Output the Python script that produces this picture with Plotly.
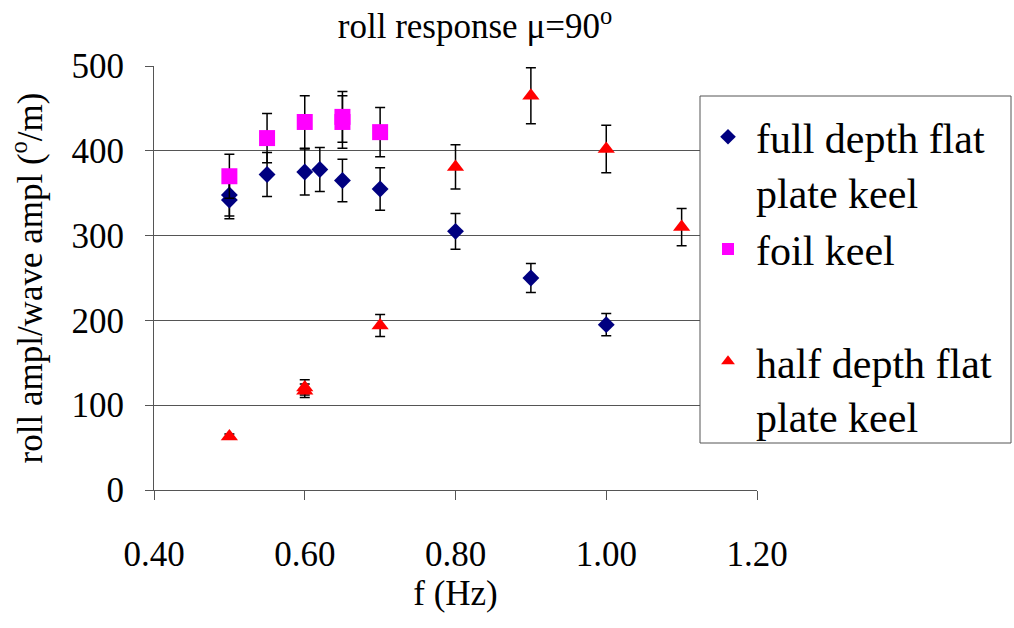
import plotly.graph_objects as go

# ---- data ----
full_f = [0.50, 0.50, 0.55, 0.60, 0.62, 0.65, 0.70, 0.80, 0.90, 1.00]
full_y = [348, 342, 372, 375, 378, 365, 355, 305, 250, 195]
full_err = [25, 22, 26, 27, 26, 25, 25, 21, 17, 13]

foil_f = [0.50, 0.55, 0.60, 0.65, 0.65, 0.70]
foil_y = [370, 415, 434, 440, 434, 422]
foil_err = [26, 29, 31, 30, 31, 29]

half_f = [0.50, 0.60, 0.60, 0.70, 0.80, 0.90, 1.00, 1.10]
half_y = [63, 117, 121, 194, 381, 465, 402, 310]
half_err = [3, 8, 9, 13, 26, 33, 28, 22]

x_ticks = [0.40, 0.60, 0.80, 1.00, 1.20]
y_ticks = [0, 100, 200, 300, 400, 500]

FONT = "Times New Roman, Liberation Serif, DejaVu Serif, serif"

fig = go.Figure()

def err(vals):
    return dict(type="data", array=vals, visible=True, color="black",
                thickness=1.5, width=5)

fig.add_trace(go.Scatter(
    x=full_f, y=full_y, mode="markers", name="full depth flat<br>plate keel",
    marker=dict(symbol="diamond", size=13, color="#000080",
                line=dict(width=0)),
    error_y=err(full_err), legendgroup="a"))
fig.add_trace(go.Scatter(
    x=foil_f, y=foil_y, mode="markers", name="foil keel<br> ",
    marker=dict(symbol="square", size=16, color="#FF00FF",
                line=dict(width=0)),
    error_y=err(foil_err), legendgroup="b"))
fig.add_trace(go.Scatter(
    x=half_f, y=half_y, mode="markers", name="half depth flat<br>plate keel",
    marker=dict(symbol="triangle-up", size=15, color="#FF0000",
                line=dict(width=0)),
    error_y=err(half_err), legendgroup="c"))

W, H = 1014, 628
L, R, T, B = 154, 757, 66, 490

def px_x(p):
    return (p - L) / (R - L)

def px_y(p):
    return (B - p) / (B - T)

# legend frame
fig.add_shape(type="rect", xref="paper", yref="paper",
              x0=px_x(700), x1=px_x(1011), y0=px_y(443), y1=px_y(96),
              line=dict(color="#555555", width=1), fillcolor="white",
              layer="above")

fig.update_layout(
    width=W, height=H,
    margin=dict(l=L, r=W - R, t=T, b=H - B, autoexpand=False),
    paper_bgcolor="white", plot_bgcolor="white",
    font=dict(family=FONT, size=35, color="black"),
    title=dict(text="roll response \u03bc=90<sup>o</sup>",
               x=475 / W, xref="container", xanchor="center",
               y=1 - 26 / H, yref="container", yanchor="middle",
               font=dict(family=FONT, size=35, color="black")),
    showlegend=True,
    legend=dict(x=px_x(700), y=px_y(103),
                xanchor="left", yanchor="top",
                bgcolor="rgba(0,0,0,0)", borderwidth=0,
                font=dict(family=FONT, size=42, color="black"),
                valign="top", tracegroupgap=5, itemsizing="constant",
                itemwidth=46, traceorder="normal"),
    xaxis=dict(range=[0.40, 1.20], tickvals=x_ticks,
               ticktext=[f"{v:.2f}" for v in x_ticks],
               showgrid=False, zeroline=False,
               showline=True, linecolor="#555555", linewidth=1,
               ticks="outside", ticklen=9, tickcolor="#555555",
               ticklabelstandoff=24,
               tickfont=dict(family=FONT, size=35),
               title=dict(text="f (Hz)", standoff=6,
                          font=dict(family=FONT, size=35))),
    yaxis=dict(range=[0, 500], tickvals=y_ticks,
               showgrid=True, gridcolor="#555555", gridwidth=1,
               zeroline=False,
               showline=True, linecolor="#555555", linewidth=1,
               ticks="outside", ticklen=8, tickcolor="#555555",
               ticklabelstandoff=14,
               tickfont=dict(family=FONT, size=35),
               title=dict(text="roll ampl/wave ampl (<sup>o</sup>/m)",
                          standoff=18,
                          font=dict(family=FONT, size=35))),
)

fig.write_html("out.html")
